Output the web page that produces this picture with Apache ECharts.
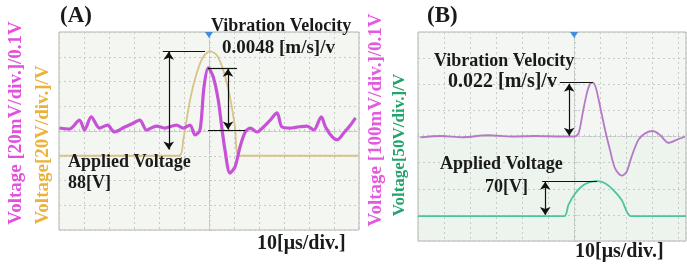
<!DOCTYPE html>
<html>
<head>
<meta charset="utf-8">
<script src="https://cdn.jsdelivr.net/npm/echarts@6/dist/echarts.min.js"></script>
<style>
  html, body { margin: 0; padding: 0; background: #fff; }
  #chart { width: 687px; height: 266px; }
</style>
</head>
<body>
<div id="chart"></div>
<script>
// all values are in scope divisions (x: 10 us/div, y: one grid square)
const velocityA = [
  [-5.98, 0.12], [-5.58, 0.08], [-5.18, 0.44], [-4.98, 0.04], [-4.71, 0.57],
  [-4.38, 0.12], [-4.06, 0.24], [-3.78, -0.04], [-3.37, 0.16], [-3.1, 0.28],
  [-2.77, 0.44], [-2.5, 0.04], [-2.1, 0.2], [-1.77, 0.12], [-1.3, 0.24],
  [-1.03, 0.12], [-0.76, 0.24], [-0.56, -0.16], [-0.36, 0.04], [-0.2, 1.78],
  [-0.03, 2.55], [0.17, 2.18], [0.37, 1.25], [0.51, 0.16], [0.64, -0.77],
  [0.84, -1.7], [1.04, -1.45], [1.24, -0.65], [1.45, -0.04], [1.65, 0.12],
  [1.92, -0.04], [2.18, 0.16], [2.45, 0.44], [2.72, 0.73], [2.92, 0.16],
  [3.25, 0.12], [3.52, 0.16], [3.92, 0.2], [4.19, 0.04], [4.49, 0.57],
  [4.66, 0.16], [4.93, -0.24], [5.13, -0.36], [5.39, -0.08], [5.66, 0.24],
  [5.86, 0.53]
];
const voltageA = [
  [-6, -1], [-1.19, -1], [-1.03, -0.36], [-0.76, 1.25], [-0.49, 2.34],
  [-0.23, 3.0], [0.04, 3.23], [0.31, 3.07], [0.57, 2.46], [0.84, 1.37],
  [1.04, 0.16], [1.22, -1], [6, -1]
];
const velocityB = [
  [-5.91, -0.03], [-5.1, 0.02], [-4.3, -0.03], [-3.3, 0.05], [-2.4, 0.0],
  [-1.5, 0.02], [-0.5, 0.0], [0.0, 0.0], [0.17, 0.12], [0.33, 0.9],
  [0.49, 1.66], [0.61, 2.01], [0.72, 2.06], [0.84, 1.85], [1.0, 1.14],
  [1.19, 0.25], [1.38, -0.52], [1.57, -1.21], [1.83, -1.5], [2.02, -1.35],
  [2.21, -0.77], [2.47, -0.13], [2.73, 0.12], [3.02, 0.21], [3.3, 0.06],
  [3.62, -0.24], [3.94, -0.13], [4.26, 0.0]
];
const voltageB = [
  [-6, -3.05], [-0.38, -3.05], [-0.22, -2.62], [0.04, -2.18], [0.36, -1.86],
  [0.68, -1.73], [0.9, -1.71], [1.19, -1.79], [1.51, -2.05], [1.83, -2.43],
  [2.18, -3.05], [4.3, -3.05]
];
// annotation arrows and reference lines: [x1, y1, x2, y2, isArrow]
const notesA = [
  [-1.61, -0.75, -1.61, 3.2, true],
  [-1.85, 3.23, -0.16, 3.23, false],
  [0.76, 2.52, 0.76, 0.06, true],
  [-0.04, 2.55, 1.12, 2.55, false],
  [-0.04, 0.04, 1.45, 0.04, false]
];
const notesB = [
  [-0.19, 2.02, -0.19, 0.03, true],
  [-0.55, 2.06, 0.72, 2.06, false],
  [-1.11, -1.73, -1.11, -3.0, true],
  [-1.23, -1.71, 0.88, -1.71, false]
];

const serif = '"Liberation Serif", "DejaVu Serif", serif';

function xAxis(idx, max) {
  return {
    type: 'value', gridIndex: idx, min: -6, max: max, interval: 1,
    axisLabel: { show: false },
    axisLine: { onZero: true, lineStyle: { color: '#c2c6c2', type: [2, 2] } },
    axisTick: { show: true, inside: true, length: 3, lineStyle: { color: '#c2c6c2' } },
    minorTick: { show: true, splitNumber: 5, length: 2, lineStyle: { color: '#c9ccc9' } },
    splitLine: { show: true, lineStyle: { color: '#c8ccc8', type: [2, 3] } }
  };
}
function yAxis(idx) {
  return {
    type: 'value', gridIndex: idx, min: -4, max: 4, interval: 1,
    axisLabel: { show: false },
    axisLine: { onZero: true, lineStyle: { color: '#c2c6c2', type: [2, 2] } },
    axisTick: { show: true, inside: true, length: 3, lineStyle: { color: '#c2c6c2' } },
    minorTick: { show: true, splitNumber: 5, length: 2, lineStyle: { color: '#c9ccc9' } },
    splitLine: { show: true, lineStyle: { color: '#c8ccc8', type: [2, 3] } }
  };
}
function notes(list) {
  return {
    silent: true, animation: false,
    label: { show: false },
    lineStyle: { color: '#111', width: 1.2, type: 'solid' },
    symbolSize: 8,
    data: list.map(n => [
      { coord: [n[0], n[1]], symbol: n[4] ? 'arrow' : 'none' },
      { coord: [n[2], n[3]], symbol: n[4] ? 'arrow' : 'none' }
    ])
  };
}
function trigger() {
  return {
    silent: true, animation: false,
    symbol: 'triangle', symbolRotate: 180, symbolSize: [8, 6], symbolOffset: [0, 3],
    itemStyle: { color: '#3d8ede' }, label: { show: false },
    data: [{ coord: [0, 4] }]
  };
}
function text(str, x, y, size, color, rot) {
  return {
    type: 'text', x: x, y: y, rotation: rot || 0, z: 100,
    style: {
      text: str, fill: color || '#1a1a1a', fontFamily: serif, fontWeight: 'bold',
      fontSize: size, align: rot ? 'center' : 'left', verticalAlign: 'middle'
    }
  };
}

const chart = echarts.init(document.getElementById('chart'));
chart.setOption({
  animation: false,
  backgroundColor: '#ffffff',
  grid: [
    { left: 59, top: 32, width: 300, height: 198, show: true,
      backgroundColor: '#f3f6f1', borderColor: '#b3b7b3', borderWidth: 1 },
    { left: 418, top: 32, width: 268, height: 209, show: true,
      backgroundColor: '#f4f6f3', borderColor: '#b3b7b3', borderWidth: 1 }
  ],
  xAxis: [xAxis(0, 6), xAxis(1, 4.3)],
  yAxis: [yAxis(0), yAxis(1)],
  series: [
    { type: 'line', name: 'Applied Voltage A', xAxisIndex: 0, yAxisIndex: 0,
      data: voltageA, showSymbol: false, smooth: 0.25,
      lineStyle: { color: '#d8c48a', width: 1.8 } },
    { type: 'line', name: 'Vibration Velocity A', xAxisIndex: 0, yAxisIndex: 0,
      data: velocityA, showSymbol: false, smooth: 0.3,
      lineStyle: { color: '#c752d8', width: 3.2 },
      markLine: notes(notesA), markPoint: trigger() },
    { type: 'line', name: 'Applied Voltage B', xAxisIndex: 1, yAxisIndex: 1,
      data: voltageB, showSymbol: false, smooth: 0.25,
      lineStyle: { color: '#4cc59e', width: 1.8 },
      markArea: { silent: true, itemStyle: { color: 'rgba(150,210,170,0.07)' },
        data: [[{ coord: [-6, 0] }, { coord: [4.3, -4] }]] } },
    { type: 'line', name: 'Vibration Velocity B', xAxisIndex: 1, yAxisIndex: 1,
      data: velocityB, showSymbol: false, smooth: 0.3,
      lineStyle: { color: '#b57ac6', width: 1.8 },
      markLine: notes(notesB), markPoint: trigger() }
  ],
  graphic: [
    text('(A)', 60, 16.5, 23),
    text('Vibration Velocity', 211, 26, 18),
    text('0.0048 [m/s]/v', 222, 48.5, 19),
    text('Applied Voltage', 68, 162, 18),
    text('88[V]', 68, 183, 18),
    text('10[\u03bcs/div.]', 257, 244, 20),
    text('Voltage [20mV/div.]/0.1V', 16.5, 123, 19, '#e251dc', Math.PI / 2),
    text('Voltage[20V/div.]/V', 43.5, 145, 19, '#ecb23a', Math.PI / 2),
    text('(B)', 427, 16.5, 23),
    text('Vibration Velocity', 434, 61.5, 18),
    text('0.022 [m/s]/v', 448, 81.5, 20),
    text('Applied Voltage', 440, 164, 18),
    text('70[V]', 485, 187, 18),
    text('10[\u03bcs/div.]', 575, 251.5, 20),
    text('Voltage [100mV/div.]/0.1V', 376.5, 120, 19, '#e45ade', Math.PI / 2),
    text('Voltage[50V/div.]/V', 400, 145, 17, '#22a46c', Math.PI / 2)
  ]
});
</script>
</body>
</html>
